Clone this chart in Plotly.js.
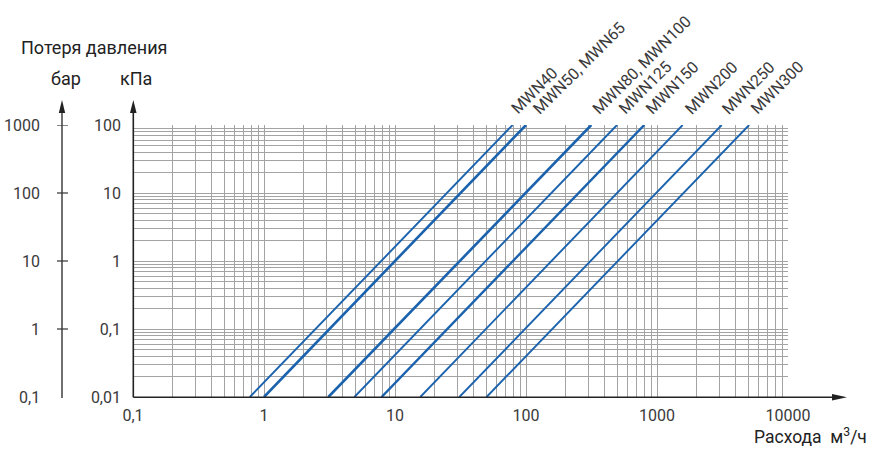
<!DOCTYPE html>
<html>
<head>
<meta charset="utf-8">
<script src="https://cdn.plot.ly/plotly-3.0.1.min.js"></script>
<style>
  html, body { margin: 0; padding: 0; background: #fff; }
  #chart { width: 890px; height: 465px; }
</style>
</head>
<body>
<div id="chart"></div>
<script>
// ---- data ----
const seriesNames = ['MWN40', 'MWN50, MWN65', 'MWN80, MWN100', 'MWN125', 'MWN150', 'MWN200', 'MWN250', 'MWN300'];
// flow (m3/h) where each line meets the 0,01 kPa and 100 kPa levels
const flowAtMinLoss = [0.78, 1.0, 3.1, 4.9, 7.9, 15.6, 31, 50];
const flowAtMaxLoss = [79, 100, 315, 495, 800, 1570, 3120, 5050];
const lossRange = [0.01, 100];               // kPa
const kpaTicks = [0.01, 0.1, 1, 10, 100];
const kpaTickText = ['0,01', '0,1', '1', '10', '100'];
const barTickText = ['0,1', '1', '10', '100', '1000'];
const flowTicks = [0.1, 1, 10, 100, 1000, 10000];
const flowTickText = ['0,1', '1', '10', '100', '1000', '10000'];

// ---- styles ----
const LINE_COLOR = '#1a62ad';
const LINE_WIDTHS = [1.9, 2.6, 2.6, 1.9, 2.4, 1.9, 1.9, 1.9];
const LABEL_NUDGE = [-3, 5, -1, 0, 0, 1, -1, 0];   // px, label spacing tweaks
const GRID = '#a3a3a3';
const AXIS = '#222';
const TXT = '#3a3a3a';
const FONT = 'Roboto, "Noto Sans", sans-serif';

const W = 890, H = 465;
const M = { l: 133, r: 102, t: 125, b: 68 };
const pw = W - M.l - M.r, ph = H - M.t - M.b;
const px = v => (v - M.l) / pw;          // pixel -> paper x
const py = v => (H - M.b - v) / ph;      // pixel -> paper y

// gridline positions (1..9 within every decade of each axis)
function logGrid(lo, hi) {
  const out = [];
  for (let e = lo; e < hi; e++) for (let k = 1; k <= 9; k++) out.push(k * Math.pow(10, e));
  out.push(Math.pow(10, hi));
  return out;
}

const traces = seriesNames.map((name, i) => ({
  type: 'scatter', mode: 'lines', name: name,
  x: [flowAtMinLoss[i], flowAtMaxLoss[i]],
  y: lossRange,
  line: { color: LINE_COLOR, width: LINE_WIDTHS[i] },
  hoverinfo: 'skip', showlegend: false
}));

const annotations = [];
// series labels at the top end of each line
seriesNames.forEach((name, i) => {
  annotations.push({
    xref: 'x', yref: 'y', x: Math.log10(flowAtMaxLoss[i]), y: Math.log10(lossRange[1]),
    text: name, showarrow: false, textangle: -45,
    xanchor: 'left', yanchor: 'bottom', xshift: -5 + LABEL_NUDGE[i], yshift: 4,
    font: { family: FONT, size: 16, color: TXT }
  });
});
// bar scale labels
kpaTicks.forEach((v, i) => {
  annotations.push({
    xref: 'paper', yref: 'y', x: px(42), y: Math.log10(v),
    text: barTickText[i], showarrow: false, xanchor: 'right', yanchor: 'middle',
    font: { family: FONT, size: 16, color: TXT }
  });
});
// titles
annotations.push({ xref: 'paper', yref: 'paper', x: px(19), y: py(48), text: 'Потеря давления',
  showarrow: false, xanchor: 'left', yanchor: 'middle', font: { family: FONT, size: 18, color: '#222' } });
annotations.push({ xref: 'paper', yref: 'paper', x: px(65.5), y: py(79), text: 'бар',
  showarrow: false, xanchor: 'center', yanchor: 'middle', font: { family: FONT, size: 18, color: '#222' } });
annotations.push({ xref: 'paper', yref: 'paper', x: px(136), y: py(79), text: 'кПа',
  showarrow: false, xanchor: 'center', yanchor: 'middle', font: { family: FONT, size: 18, color: '#222' } });
annotations.push({ xref: 'paper', yref: 'paper', x: px(869), y: py(436), text: 'Расхода  м<sup>3</sup>/ч',
  showarrow: false, xanchor: 'right', yanchor: 'middle', font: { family: FONT, size: 17.5, color: '#222' } });

// axes drawn as shapes (with arrows)
const shapes = [];
const x0 = px(133.3), yb = py(397.3);
// kPa axis
shapes.push({ type: 'line', xref: 'paper', yref: 'paper', x0: x0, x1: x0, y0: yb, y1: py(110), line: { color: AXIS, width: 1.6 } });
shapes.push({ type: 'path', xref: 'paper', yref: 'paper', fillcolor: AXIS, line: { width: 0 },
  path: `M ${px(130)} ${py(113)} L ${px(136.6)} ${py(113)} L ${px(133.3)} ${py(100)} Z` });
// bar axis
shapes.push({ type: 'line', xref: 'paper', yref: 'paper', x0: px(62), x1: px(62), y0: py(398), y1: py(110), line: { color: '#333', width: 1.4 } });
shapes.push({ type: 'path', xref: 'paper', yref: 'paper', fillcolor: AXIS, line: { width: 0 },
  path: `M ${px(58.8)} ${py(113)} L ${px(65.2)} ${py(113)} L ${px(62)} ${py(100)} Z` });
kpaTicks.slice(1).forEach(v => {
  shapes.push({ type: 'line', xref: 'paper', yref: 'y', x0: px(57), x1: px(68), y0: v, y1: v, line: { color: '#333', width: 1.2 } });
});
// flow axis
shapes.push({ type: 'line', xref: 'paper', yref: 'paper', x0: x0, x1: px(835), y0: yb, y1: yb, line: { color: AXIS, width: 1.6 } });
shapes.push({ type: 'path', xref: 'paper', yref: 'paper', fillcolor: AXIS, line: { width: 0 },
  path: `M ${px(832)} ${py(394)} L ${px(832)} ${py(400.6)} L ${px(847)} ${yb} Z` });

const layout = {
  width: W, height: H, margin: M,
  paper_bgcolor: '#fff', plot_bgcolor: '#fff',
  separators: ', ',
  showlegend: false,
  xaxis: {
    type: 'log', range: [-1, 4], fixedrange: true,
    tickmode: 'array', tickvals: flowTicks, ticktext: flowTickText,
    ticks: '', ticklabelstandoff: 7,
    showgrid: true, gridcolor: GRID, gridwidth: 1,
    minor: { tickmode: 'array', tickvals: logGrid(-1, 4), showgrid: true, gridcolor: GRID, gridwidth: 1, ticks: '' },
    showline: false, zeroline: false,
    tickfont: { family: FONT, size: 16, color: TXT }
  },
  yaxis: {
    type: 'log', range: [-2, 2], fixedrange: true,
    tickmode: 'array', tickvals: kpaTicks, ticktext: kpaTickText,
    ticks: '', ticklabelstandoff: 11,
    showgrid: true, gridcolor: GRID, gridwidth: 1,
    minor: { tickmode: 'array', tickvals: logGrid(-2, 2), showgrid: true, gridcolor: GRID, gridwidth: 1, ticks: '' },
    showline: false, zeroline: false,
    tickfont: { family: FONT, size: 16, color: TXT }
  },
  annotations: annotations,
  shapes: shapes
};

Plotly.newPlot('chart', traces, layout, { staticPlot: true, displayModeBar: false });
</script>
</body>
</html>
